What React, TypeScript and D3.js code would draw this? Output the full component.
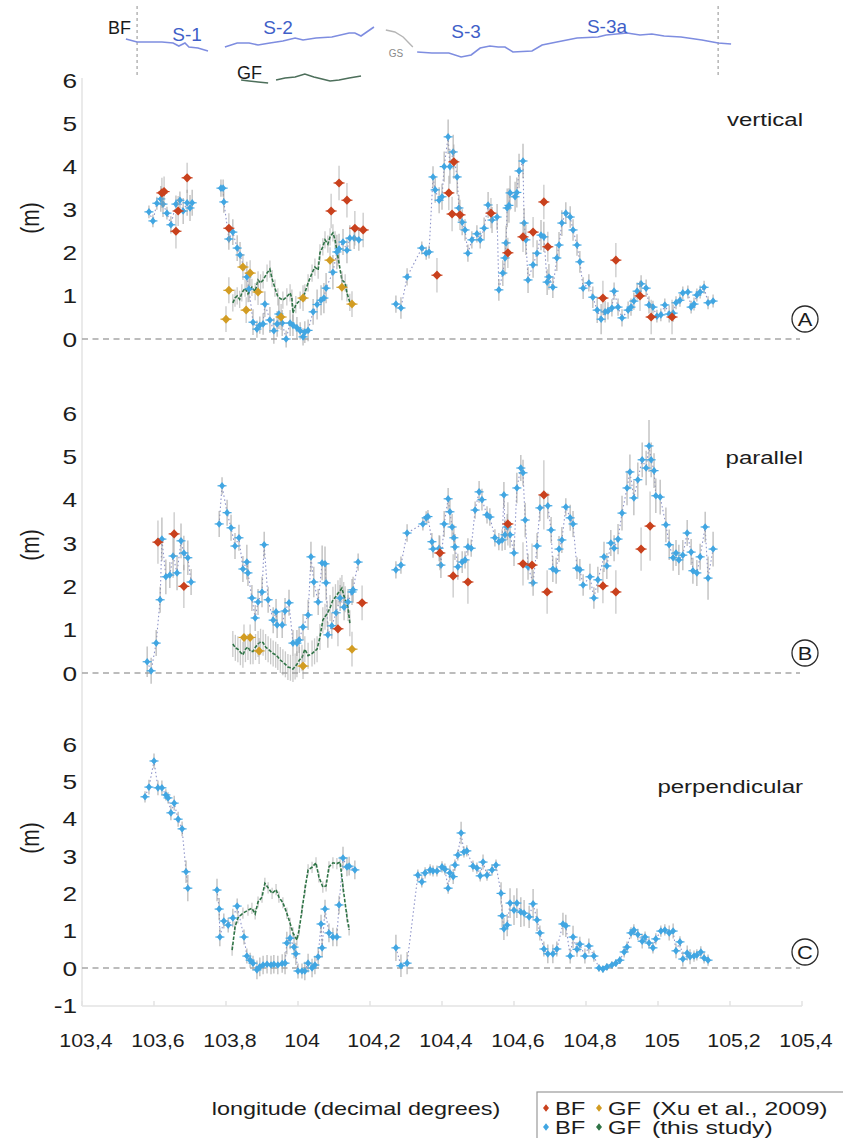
import React from "react";
import * as d3 from "d3";

type Pt = [number, number, number]; // longitude, offset (m), error (m)
type TP = [number, number]; // longitude, sketch northing

// ---------- axis ticks ----------
const xTicks = [103.4, 103.6, 103.8, 104.0, 104.2, 104.4, 104.6, 104.8, 105.0, 105.2, 105.4];
const xTickLabels = ["103,4", "103,6", "103,8", "104", "104,2", "104,4", "104,6", "104,8", "105", "105,2", "105,4"];
const yTicksAB = [0, 1, 2, 3, 4, 5, 6];
const yTicksC = [-1, 0, 1, 2, 3, 4, 5, 6];

// ---------- panel A : vertical ----------
const vertBF: Pt[] = [
  [103.586,2.95,.15],[103.597,2.74,.15],[103.608,3.15,.15],[103.619,3.25,.3],[103.625,3.13,.3],[103.636,2.92,.15],[103.647,2.65,.2],[103.661,3.13,.2],[103.672,3.22,.2],[103.681,2.97,.3],[103.692,3.16,.3],[103.700,3.04,.3],[103.706,3.16,.3],
  [103.786,3.5,.2],[103.792,3.5,.2],[103.794,3.18,.25],[103.808,2.32,.25],[103.819,2.48,.3],[103.831,2.11,.3],[103.839,1.95,.3],[103.858,1.44,.35],[103.864,1.16,.3],[103.875,0.39,.3],[103.886,0.23,.2],[103.894,0.32,.2],[103.903,0.35,.25],[103.908,0.81,.3],[103.922,0.44,.3],[103.933,0.19,.3],[103.942,0.35,.3],[103.947,0.58,.35],[103.956,0.37,.3],[103.967,0.0,.2],[103.978,0.37,.3],[103.986,0.32,.25],[103.997,0.26,.25],[104.006,0.19,.2],[104.014,0.05,.2],[104.019,0.16,.25],[104.028,0.2,.25],[104.042,0.63,.3],[104.053,0.8,.35],[104.064,0.9,.35],[104.072,0.95,.35],[104.078,1.18,.35],[104.097,1.55,.4],[104.108,2.02,.4],[104.114,2.09,.35],[104.125,2.25,.3],[104.136,2.06,.3],[104.144,2.34,.3],[104.156,2.34,.25],[104.169,2.3,.25],
  [104.272,0.81,.2],[104.286,0.72,.25],[104.303,1.44,.2],
  [104.344,2.11,.15],[104.356,1.99,.15],[104.364,2.02,.15],[104.375,3.76,.25],[104.381,3.46,.3],[104.392,3.22,.3],[104.400,3.3,.3],[104.406,4.0,.35],[104.417,4.69,.4],[104.422,4.0,.4],[104.431,4.34,.4],[104.442,3.76,.4],[104.447,3.04,.3],[104.456,2.71,.3],[104.464,2.53,.25],[104.472,1.99,.2],[104.483,2.3,.2],[104.497,2.44,.2],[104.506,2.3,.2],[104.517,2.57,.25],[104.528,3.11,.3],[104.539,2.76,.3],[104.553,2.83,.3],[104.558,1.14,.25],[104.569,1.53,.3],[104.575,1.88,.4],[104.578,2.23,.4],[104.581,3.04,.45],[104.586,3.1,.4],[104.589,3.39,.4],[104.603,3.3,.35],[104.608,3.4,.35],[104.614,3.9,.4],[104.625,4.13,.4],[104.628,2.69,.35],[104.633,2.3,.35],[104.639,1.37,.3],[104.653,1.72,.3],[104.664,1.99,.3],[104.675,2.41,.35],[104.683,2.37,.35],[104.692,1.32,.3],[104.697,1.44,.3],[104.708,1.2,.25],[104.719,1.88,.3],[104.725,2.18,.3],[104.733,2.69,.3],[104.744,2.92,.25],[104.756,2.83,.25],[104.764,2.53,.25],[104.775,2.18,.25],[104.783,1.79,.25],[104.792,1.18,.25],[104.808,1.3,.2],[104.819,0.97,.25],[104.831,0.67,.3],[104.842,0.46,.35],[104.853,0.63,.25],[104.861,0.65,.2],[104.872,0.72,.2],[104.878,1.11,.2],[104.889,0.74,.2],[104.900,0.49,.2],[104.917,0.67,.2],[104.925,0.74,.2],[104.933,0.88,.2],[104.942,1.11,.2],[104.953,1.28,.2],[104.967,1.18,.2],[104.975,0.79,.2],[104.986,0.74,.15],[104.997,0.53,.15],[105.008,0.56,.15],[105.019,0.79,.15],[105.031,0.58,.2],[105.042,0.6,.2],[105.050,0.84,.15],[105.061,0.9,.15],[105.069,1.07,.15],[105.083,1.09,.15],[105.092,0.74,.15],[105.100,0.81,.15],[105.108,1.02,.15],[105.117,1.09,.15],[105.128,1.2,.15],[105.139,0.84,.15],[105.153,0.88,.15],
];
const vertGF: Pt[] = [
  [103.819,0.84,.2],[103.825,0.95,.2],[103.831,1.0,.2],[103.838,0.92,.2],[103.844,1.07,.2],[103.853,1.18,.2],[103.861,1.05,.2],[103.872,1.2,.2],[103.881,1.1,.2],[103.889,1.37,.2],[103.896,1.3,.2],[103.903,1.37,.2],[103.914,1.53,.2],[103.922,1.62,.2],[103.928,1.4,.2],[103.936,1.18,.2],[103.944,0.98,.2],[103.958,0.9,.2],[103.969,0.98,.2],[103.978,1.07,.2],[103.983,0.95,.2],[103.986,0.6,.2],[103.994,0.8,.2],[104.006,0.9,.2],[104.019,1.07,.2],[104.028,1.3,.2],[104.039,1.53,.2],[104.047,1.67,.2],[104.056,1.6,.2],[104.061,2.0,.2],[104.069,2.14,.2],[104.075,2.3,.2],[104.083,2.2,.2],[104.089,2.37,.2],[104.097,2.46,.2],[104.103,2.3,.2],[104.111,1.9,.2],[104.122,1.37,.2],[104.131,1.3,.2],[104.136,1.07,.2],[104.144,0.85,.2],
];
const vertXuBF: Pt[] = [
  [103.622,3.39,.35],[103.628,3.42,.35],[103.661,2.5,.4],[103.667,2.97,.35],[103.692,3.74,.35],[103.808,2.57,.35],[104.092,2.97,.4],[104.114,3.62,.4],[104.136,3.22,.4],[104.158,2.57,.4],[104.181,2.53,.4],
  [104.386,1.48,.4],[104.419,3.39,.4],[104.428,2.9,.4],[104.433,4.11,.4],[104.450,2.88,.35],[104.536,2.92,.35],[104.583,2.0,.35],[104.625,2.37,.35],[104.653,2.48,.35],[104.683,3.18,.4],[104.694,2.14,.35],[104.847,0.95,.4],[104.883,1.83,.4],[104.950,1.0,.35],[104.981,0.51,.4],[105.039,0.51,.4],
];
const vertXuGF: Pt[] = [
  [103.800,0.46,.3],[103.808,1.13,.3],[103.847,1.67,.3],[103.856,0.67,.3],[103.867,1.53,.3],[103.889,1.09,.3],[103.953,0.51,.3],[104.014,0.95,.3],[104.089,1.83,.3],[104.122,1.2,.3],[104.150,0.81,.3],
];

// ---------- panel B : parallel ----------
const parBF: Pt[] = [
  [103.581,0.26,.35],[103.592,0.05,.3],[103.606,0.69,.3],[103.617,1.69,.3],[103.622,3.09,.5],[103.633,2.22,.4],[103.644,2.26,.3],[103.653,2.7,.5],[103.664,2.31,.4],[103.675,3.05,.4],[103.683,2.77,.4],[103.694,2.66,.4],[103.703,2.1,.3],
  [103.781,3.44,.3],[103.789,4.32,.2],[103.803,3.7,.3],[103.814,3.35,.3],[103.825,2.93,.3],[103.836,3.12,.3],[103.847,2.4,.3],[103.858,2.56,.4],[103.861,2.31,.3],[103.872,1.73,.3],[103.881,1.27,.3],[103.889,1.64,.3],[103.900,1.87,.35],[103.906,2.96,.3],[103.917,1.69,.3],[103.931,1.22,.3],[103.939,1.41,.3],[103.942,1.11,.3],[103.956,1.11,.3],[103.964,1.43,.3],[103.975,1.62,.3],[103.986,0.69,.3],[103.997,0.69,.3],[104.003,0.76,.3],[104.014,1.06,.3],[104.028,1.34,.35],[104.036,2.68,.35],[104.044,2.1,.35],[104.056,1.64,.3],[104.067,2.54,.4],[104.075,2.52,.4],[104.078,2.08,.4],[104.083,0.88,.3],[104.094,1.09,.3],[104.106,1.39,.3],[104.117,1.73,.3],[104.128,1.52,.3],[104.139,1.64,.3],[104.150,1.87,.3],[104.153,1.92,.3],[104.167,2.56,.2],
  [104.272,2.38,.2],[104.286,2.49,.2],[104.303,3.23,.2],
  [104.347,3.44,.15],[104.356,3.58,.15],[104.361,3.61,.15],[104.372,3.03,.2],[104.375,2.86,.2],[104.392,2.88,.3],[104.397,2.49,.3],[104.406,3.44,.3],[104.417,4.02,.25],[104.422,3.72,.3],[104.428,3.37,.3],[104.433,3.12,.3],[104.436,2.91,.3],[104.444,2.45,.3],[104.456,2.56,.25],[104.464,2.61,.2],[104.472,2.91,.2],[104.481,2.88,.2],[104.492,3.76,.2],[104.503,4.18,.25],[104.511,4.0,.25],[104.525,3.65,.2],[104.533,3.6,.2],[104.547,3.12,.2],[104.558,3.03,.2],[104.567,3.07,.25],[104.572,4.11,.3],[104.575,3.19,.35],[104.581,3.37,.3],[104.589,3.19,.3],[104.600,2.77,.3],[104.608,4.27,.35],[104.619,4.73,.3],[104.625,4.62,.3],[104.631,3.53,.4],[104.639,2.45,.3],[104.653,2.08,.3],[104.664,2.93,.3],[104.672,3.81,.3],[104.694,3.86,.3],[104.703,3.3,.3],[104.708,2.4,.3],[104.717,2.36,.3],[104.725,2.86,.3],[104.733,3.07,.3],[104.744,3.83,.2],[104.756,3.58,.3],[104.764,3.44,.3],[104.775,2.42,.25],[104.783,2.38,.25],[104.792,2.03,.25],[104.811,2.22,.3],[104.822,1.73,.25],[104.833,2.15,.3],[104.850,2.68,.35],[104.858,2.47,.3],[104.869,3.0,.3],[104.878,2.88,.3],[104.889,3.09,.35],[104.900,3.69,.4],[104.914,4.27,.4],[104.922,4.64,.4],[104.933,4.04,.4],[104.944,4.46,.4],[104.956,4.92,.4],[104.967,4.73,.4],[104.975,5.24,.6],[104.981,4.92,.4],[104.989,4.67,.4],[104.994,4.09,.4],[105.006,4.06,.4],[105.022,3.42,.4],[105.031,2.96,.35],[105.042,2.66,.3],[105.050,2.77,.3],[105.058,2.61,.35],[105.069,2.72,.35],[105.081,3.23,.3],[105.092,2.79,.3],[105.097,2.36,.3],[105.108,2.31,.3],[105.117,2.68,.3],[105.131,3.37,.35],[105.139,2.19,.5],[105.153,2.86,.4],
];
const parGF: Pt[] = [
  [103.819,0.67,.3],[103.826,0.58,.3],[103.833,0.55,.3],[103.840,0.48,.3],[103.847,0.42,.3],[103.854,0.55,.3],[103.861,0.6,.3],[103.868,0.5,.3],[103.875,0.5,.3],[103.882,0.6,.3],[103.889,0.67,.3],[103.896,0.72,.3],[103.903,0.7,.3],[103.910,0.6,.3],[103.917,0.55,.3],[103.924,0.5,.3],[103.931,0.45,.3],[103.938,0.42,.3],[103.944,0.37,.3],[103.951,0.3,.3],[103.958,0.25,.3],[103.965,0.2,.3],[103.972,0.14,.3],[103.979,0.12,.3],[103.986,0.09,.3],[103.992,0.15,.3],[103.997,0.2,.3],[104.004,0.3,.3],[104.011,0.35,.3],[104.019,0.55,.3],[104.028,0.4,.3],[104.039,0.45,.3],[104.046,0.5,.3],[104.053,0.55,.3],[104.061,0.83,.3],[104.069,1.22,.3],[104.075,1.3,.3],[104.081,1.37,.3],[104.089,1.5,.3],[104.097,1.69,.3],[104.104,1.75,.3],[104.111,1.84,.3],[104.117,1.9,.3],[104.122,1.96,.3],[104.127,1.8,.3],[104.131,1.7,.3],[104.139,1.5,.3],[104.144,1.15,.3],
];
const parXuBF: Pt[] = [
  [103.611,3.02,.5],[103.656,3.21,.5],[103.683,2.0,.5],[104.111,1.02,.4],[104.178,1.62,.4],[104.394,2.77,.4],[104.431,2.24,.5],[104.472,2.1,.5],[104.583,3.44,.5],[104.625,2.52,.5],[104.650,2.49,.5],[104.683,4.11,.8],[104.692,1.87,.5],[104.847,2.01,.4],[104.883,1.87,.5],[104.953,2.86,.5],[104.978,3.39,.8],
];
const parXuGF: Pt[] = [
  [103.850,0.82,.3],[103.867,0.82,.3],[103.892,0.51,.3],[104.014,0.16,.3],[104.150,0.55,.4],
];

// ---------- panel C : perpendicular ----------
const perpBF: Pt[] = [
  [103.575,4.59,.15],[103.586,4.85,.2],[103.600,5.55,.2],[103.611,4.83,.2],[103.622,4.83,.2],[103.633,4.64,.15],[103.639,4.56,.15],[103.647,4.16,.2],[103.656,4.42,.2],[103.667,3.99,.2],[103.678,3.73,.2],[103.689,2.58,.3],[103.694,2.14,.35],
  [103.775,2.09,.3],[103.781,1.58,.3],[103.783,0.83,.25],[103.794,1.26,.2],[103.806,1.15,.2],[103.819,1.34,.25],[103.831,1.66,.2],[103.850,0.83,.2],[103.858,0.32,.2],[103.867,0.21,.2],[103.875,0.13,.2],[103.886,-0.05,.25],[103.894,0.03,.25],[103.903,0.08,.25],[103.914,0.1,.25],[103.925,0.08,.25],[103.933,0.1,.25],[103.944,0.08,.25],[103.956,0.12,.25],[103.964,0.13,.3],[103.969,0.67,.3],[103.978,0.8,.3],[103.989,0.56,.3],[103.994,0.38,.3],[104.000,-0.08,.2],[104.011,-0.08,.2],[104.019,-0.08,.25],[104.028,0.13,.25],[104.039,0.0,.25],[104.047,0.08,.25],[104.056,0.3,.25],[104.064,1.18,.25],[104.067,0.54,.25],[104.075,1.58,.25],[104.086,0.94,.25],[104.097,0.83,.25],[104.108,0.83,.25],[104.114,1.69,.25],[104.125,2.95,.3],[104.136,2.71,.25],[104.142,2.73,.25],[104.158,2.63,.25],
  [104.272,0.54,.35],[104.286,0.06,.3],[104.303,0.13,.3],
  [104.333,2.49,.15],[104.344,2.31,.15],[104.353,2.55,.15],[104.367,2.63,.15],[104.375,2.6,.15],[104.386,2.6,.15],[104.400,2.71,.15],[104.408,2.65,.15],[104.417,2.14,.15],[104.422,2.55,.2],[104.431,2.45,.2],[104.436,2.76,.15],[104.444,3.03,.15],[104.453,3.62,.3],[104.461,3.11,.15],[104.469,3.14,.15],[104.486,2.73,.15],[104.497,2.68,.15],[104.506,2.47,.15],[104.514,2.84,.2],[104.525,2.49,.15],[104.539,2.63,.15],[104.550,2.76,.15],[104.564,2.0,.3],[104.567,1.4,.3],[104.572,1.05,.3],[104.581,1.15,.3],[104.589,1.74,.4],[104.600,1.55,.4],[104.608,1.74,.4],[104.619,1.5,.4],[104.628,1.47,.35],[104.642,1.37,.3],[104.653,1.72,.4],[104.664,1.29,.3],[104.672,0.94,.2],[104.683,0.51,.2],[104.694,0.38,.25],[104.708,0.38,.25],[104.719,0.51,.2],[104.736,1.18,.3],[104.744,1.13,.3],[104.756,0.32,.2],[104.764,0.83,.3],[104.775,0.5,.2],[104.783,0.64,.2],[104.797,0.32,.2],[104.808,0.59,.2],[104.822,0.32,.15],[104.836,0.0,.1],[104.847,-0.03,.1],[104.858,0.03,.1],[104.872,0.08,.1],[104.883,0.13,.1],[104.894,0.21,.1],[104.906,0.43,.15],[104.914,0.56,.15],[104.925,0.94,.15],[104.933,1.02,.15],[104.944,0.9,.15],[104.956,0.72,.2],[104.964,0.83,.15],[104.975,0.67,.15],[104.986,0.54,.15],[104.994,0.78,.15],[105.008,0.99,.15],[105.019,1.02,.15],[105.031,0.94,.2],[105.042,0.99,.2],[105.050,0.46,.2],[105.061,0.7,.15],[105.069,0.24,.2],[105.081,0.4,.2],[105.089,0.3,.2],[105.100,0.32,.15],[105.108,0.35,.15],[105.119,0.43,.15],[105.128,0.27,.15],[105.139,0.21,.15],
];
const perpGF: Pt[] = [
  [103.817,0.48,.15],[103.825,1.1,.15],[103.833,1.34,.15],[103.847,1.47,.15],[103.861,1.55,.15],[103.872,1.6,.15],[103.881,1.45,.15],[103.889,1.77,.15],[103.900,1.9,.15],[103.908,2.27,.15],[103.917,2.15,.15],[103.928,2.0,.15],[103.939,2.1,.15],[103.947,1.9,.15],[103.958,1.75,.15],[103.969,1.47,.15],[103.978,1.2,.15],[103.986,0.94,.15],[103.997,0.75,.15],[104.003,1.02,.15],[104.011,1.55,.15],[104.019,2.09,.15],[104.028,2.63,.15],[104.039,2.7,.15],[104.050,2.82,.15],[104.058,2.44,.15],[104.069,2.17,.15],[104.078,2.2,.15],[104.086,2.71,.15],[104.097,2.82,.15],[104.108,2.8,.15],[104.117,2.84,.15],[104.125,2.17,.15],[104.136,1.37,.15],[104.142,1.02,.15],
];
const perpXuBF: Pt[] = [];
const perpXuGF: Pt[] = [];

// ---------- fault trace sketch (longitude, sketch northing) ----------
const traceS1: TP[] = [[103.522,6.1],[103.553,5.8],[103.622,5.8],[103.653,5.7],[103.669,5.4],[103.686,5.7],[103.697,5.3],[103.722,5.2],[103.750,4.9]];
const traceS2: TP[] = [[103.797,5.3],[103.831,5.7],[103.864,5.7],[103.889,5.5],[103.922,5.7],[103.958,5.9],[103.992,6.2],[104.014,6.0],[104.050,6.2],[104.094,6.3],[104.142,6.7],[104.158,6.7],[104.175,6.4],[104.211,7.3]];
const traceGS: TP[] = [[104.244,7.0],[104.269,6.8],[104.292,6.3],[104.319,5.3]];
const traceS3: TP[] = [[104.331,4.8],[104.372,4.7],[104.419,4.7],[104.453,4.3],[104.481,4.5],[104.506,5.2],[104.533,5.4],[104.556,5.3],[104.575,5.3],[104.597,4.8],[104.650,4.9],[104.678,5.5],[104.719,5.8],[104.775,6.2],[104.833,6.3],[104.856,6.5],[104.914,6.7],[104.950,6.5],[104.983,6.6],[105.017,6.4],[105.064,6.3],[105.122,6.0],[105.167,5.7],[105.203,5.6]];
const traceGF1: TP[] = [[103.842,2.0],[103.864,1.9],[103.889,1.8],[103.917,1.7]];
const traceGF2: TP[] = [[103.939,2.0],[103.964,2.2],[103.992,2.3],[104.019,2.6],[104.044,2.3],[104.067,2.1],[104.089,1.9],[104.114,2.0],[104.142,2.2],[104.175,2.4]];
const ruptureEnds = [103.553, 105.167];

// ---------- styling ----------
const FONT = "'Liberation Sans', Arial, Helvetica, sans-serif";
const NARROW = "'Liberation Sans Narrow', 'Liberation Sans', Arial, sans-serif";
const C_BF = "#41a6e2";
const C_GF = "#2f7446";
const C_XBF = "#c9411d";
const C_XGF = "#d29c22";
const C_ERR = "#9c9c9c";

const xS = d3.scaleLinear().domain([103.4, 105.4]).range([82, 802]);
const tY = d3.scaleLinear().domain([0, 10]).range([100, 0]);
const tLine = d3.line<TP>().x(d => xS(d[0])).y(d => tY(d[1])).curve(d3.curveLinear);

function segments(pts: Pt[], gap = 0.05): Pt[][] {
  const out: Pt[][] = [];
  let cur: Pt[] = [];
  pts.forEach((p, i) => {
    if (i > 0 && p[0] - pts[i - 1][0] > gap) { out.push(cur); cur = []; }
    cur.push(p);
  });
  if (cur.length) out.push(cur);
  return out;
}

const diamond = (cx: number, cy: number, w: number, h: number) =>
  `M${cx},${cy - h}L${cx + w},${cy}L${cx},${cy + h}L${cx - w},${cy}Z`;

function ST(props: any) {
  const { x, y, size, anchor = "start", sx = 1.3, fill = "#1c1c1c", family = FONT, weight = "normal", rot = 0, children } = props;
  return (
    <text transform={`translate(${x},${y}) scale(${sx},1) rotate(${rot})`} fontSize={size} textAnchor={anchor}
      fill={fill} fontFamily={family} fontWeight={weight}>{children}</text>
  );
}

interface PanelDef {
  id: string; title: string; y: d3.ScaleLinear<number, number>; ticks: number[];
  bf: Pt[]; gf: Pt[]; xbf: Pt[]; xgf: Pt[];
  axisTop: number; axisBottom: number; titleY: number; circleY: number; mY: number; bottomAxis: boolean;
}

const panels: PanelDef[] = [
  { id: "A", title: "vertical", y: d3.scaleLinear().domain([0, 6]).range([339, 80.4]), ticks: yTicksAB,
    bf: vertBF, gf: vertGF, xbf: vertXuBF, xgf: vertXuGF, axisTop: 78, axisBottom: 382, titleY: 126, circleY: 319, mY: 218, bottomAxis: false },
  { id: "B", title: "parallel", y: d3.scaleLinear().domain([0, 6]).range([673, 413]), ticks: yTicksAB,
    bf: parBF, gf: parGF, xbf: parXuBF, xgf: parXuGF, axisTop: 382, axisBottom: 702, titleY: 464, circleY: 653, mY: 545, bottomAxis: false },
  { id: "C", title: "perpendicular", y: d3.scaleLinear().domain([-1, 6]).range([1005.3, 744.2]), ticks: yTicksC,
    bf: perpBF, gf: perpGF, xbf: perpXuBF, xgf: perpXuGF, axisTop: 702, axisBottom: 1006, titleY: 793, circleY: 952, mY: 838, bottomAxis: true },
];

function ErrBars({ pts, y, color = C_ERR, op = 0.75, w = 1.2 }: { pts: Pt[]; y: d3.ScaleLinear<number, number>; color?: string; op?: number; w?: number }) {
  return (
    <g stroke={color} strokeOpacity={op} strokeWidth={w}>
      {pts.map((p, i) => (
        <line key={i} x1={xS(p[0])} x2={xS(p[0])} y1={y(p[1] - p[2])} y2={y(p[1] + p[2])} />
      ))}
    </g>
  );
}

function Panel({ p }: { p: PanelDef }) {
  const y = p.y;
  const line = d3.line<Pt>().x(d => xS(d[0])).y(d => y(d[1]));
  return (
    <g>
      {/* axes */}
      <line x1={82} x2={82} y1={p.axisTop} y2={p.axisBottom} stroke="#e3e3e3" strokeWidth={1.5} />
      {p.bottomAxis && (
        <g stroke="#e3e3e3" strokeWidth={1.5}>
          <line x1={82} x2={802} y1={p.axisBottom} y2={p.axisBottom} />
          {xTicks.map(t => <line key={t} x1={xS(t)} x2={xS(t)} y1={p.axisBottom} y2={p.axisBottom - 5} />)}
        </g>
      )}
      {p.ticks.map(t => (
        <ST key={t} x={77} y={y(t) + 7.5} size={21} anchor="end" sx={1.25}>{String(t)}</ST>
      ))}
      <ST x={39} y={p.mY} size={21} anchor="middle" sx={1.25} rot={-90}>(m)</ST>
      {/* zero line */}
      <line x1={82} x2={800} y1={y(0)} y2={y(0)} stroke="#a6a6a6" strokeWidth={1.6} strokeDasharray="6,4.5" />
      {/* titles */}
      <ST x={803} y={p.titleY} size={18.5} anchor="end" sx={1.3}>{p.title}</ST>
      <circle cx={805} cy={p.circleY} r={13} fill="#fff" stroke="#2a2a2a" strokeWidth={1.3} />
      <ST x={805} y={p.circleY + 7} size={19} anchor="middle" sx={1.15}>{p.id}</ST>

      {/* BF this study: dotted connector */}
      {segments(p.bf).map((s, i) => (
        <path key={i} d={line(s) || ""} fill="none" stroke="#8d93c9" strokeWidth={1.1} strokeDasharray="1.5,2.5" />
      ))}
      <ErrBars pts={p.bf} y={y} />
      {/* GF this study */}
      <ErrBars pts={p.gf} y={y} op={0.55} w={1.3} />
      <path d={line(p.gf) || ""} fill="none" stroke={C_GF} strokeWidth={1.6} strokeDasharray="3.5,1.6" />
      {/* BF markers */}
      <g>
        {p.bf.map((d, i) => {
          const cx = xS(d[0]), cy = y(d[1]);
          return (
            <g key={i}>
              <line x1={cx - 4.5} x2={cx + 4.5} y1={cy} y2={cy} stroke={C_BF} strokeWidth={1.2} />
              <path d={diamond(cx, cy, 3, 3.8)} fill={C_BF} />
            </g>
          );
        })}
      </g>
      {/* Xu et al. */}
      <ErrBars pts={p.xbf} y={y} op={0.6} />
      <ErrBars pts={p.xgf} y={y} op={0.6} />
      {p.xgf.map((d, i) => {
        const cx = xS(d[0]), cy = y(d[1]);
        return (
          <g key={i}>
            <line x1={cx - 5.5} x2={cx + 5.5} y1={cy} y2={cy} stroke={C_XGF} strokeWidth={1.2} />
            <path d={diamond(cx, cy, 4.2, 4.5)} fill={C_XGF} />
          </g>
        );
      })}
      {p.xbf.map((d, i) => {
        const cx = xS(d[0]), cy = y(d[1]);
        return (
          <g key={i}>
            <line x1={cx - 5.5} x2={cx + 5.5} y1={cy} y2={cy} stroke={C_XBF} strokeWidth={1.2} />
            <path d={diamond(cx, cy, 4.5, 4.6)} fill={C_XBF} />
          </g>
        );
      })}
    </g>
  );
}

function Sketch() {
  return (
    <g>
      {ruptureEnds.map(l => (
        <line key={l} x1={xS(l)} x2={xS(l)} y1={6} y2={77} stroke="#9a9a9a" strokeWidth={1.1} strokeDasharray="3,3" />
      ))}
      <path d={tLine(traceS1) || ""} fill="none" stroke="#7e8de0" strokeWidth={1.6} />
      <path d={tLine(traceS2) || ""} fill="none" stroke="#7e8de0" strokeWidth={1.6} />
      <path d={tLine(traceGS) || ""} fill="none" stroke="#b5b5b5" strokeWidth={1.4} />
      <path d={tLine(traceS3) || ""} fill="none" stroke="#7e8de0" strokeWidth={1.6} />
      <path d={tLine(traceGF1) || ""} fill="none" stroke="#4d6f5b" strokeWidth={1.6} />
      <path d={tLine(traceGF2) || ""} fill="none" stroke="#4d6f5b" strokeWidth={1.6} />
      <ST x={108} y={34} size={18} sx={1.0} family={NARROW} fill="#1a1a1a">BF</ST>
      <ST x={187} y={41} size={19} sx={1.0} anchor="middle" family={NARROW} fill="#3f5fc8">S-1</ST>
      <ST x={278} y={34} size={19} sx={1.0} anchor="middle" family={NARROW} fill="#3f5fc8">S-2</ST>
      <ST x={466} y={38} size={19} sx={1.0} anchor="middle" family={NARROW} fill="#3f5fc8">S-3</ST>
      <ST x={607} y={33} size={19} sx={1.0} anchor="middle" family={NARROW} fill="#3f5fc8">S-3a</ST>
      <ST x={396} y={57} size={10} sx={1.0} anchor="middle" family={NARROW} fill="#8a8a8a">GS</ST>
      <ST x={237} y={79} size={18} sx={1.0} family={NARROW} fill="#1a1a1a">GF</ST>
    </g>
  );
}

function Legend() {
  const rows = [
    { y: 1108, c1: C_XBF, c2: C_XGF, label: "(Xu et al., 2009)" },
    { y: 1127, c1: C_BF, c2: C_GF, label: "(this study)" },
  ];
  return (
    <g>
      <rect x={537} y={1092} width={320} height={60} fill="#fff" stroke="#9a9a9a" strokeWidth={1.2} />
      {rows.map(r => (
        <g key={r.label}>
          <path d={diamond(546, r.y, 3, 3.8)} fill={r.c1} />
          <ST x={555} y={r.y + 6.5} size={19} sx={1.25}>BF</ST>
          <path d={diamond(599, r.y, 3, 3.8)} fill={r.c2} />
          <ST x={608} y={r.y + 6.5} size={19} sx={1.25}>GF</ST>
          <ST x={652} y={r.y + 6.5} size={19} sx={1.3}>{r.label}</ST>
        </g>
      ))}
    </g>
  );
}

export default function App() {
  return (
    <svg width={843} height={1138} viewBox="0 0 843 1138"
      style={{ position: "absolute", left: 0, top: 0, background: "#fff" }}>
      <rect x={0} y={0} width={843} height={1138} fill="#fff" />
      <Sketch />
      {panels.map(p => <Panel key={p.id} p={p} />)}
      {xTicks.map((t, i) => (
        <ST key={t} x={xS(t) + 4} y={1047} size={17.5} anchor="middle" sx={1.22}>{xTickLabels[i]}</ST>
      ))}
      <ST x={356} y={1115} size={18} anchor="middle" sx={1.3}>longitude (decimal degrees)</ST>
      <Legend />
    </svg>
  );
}
